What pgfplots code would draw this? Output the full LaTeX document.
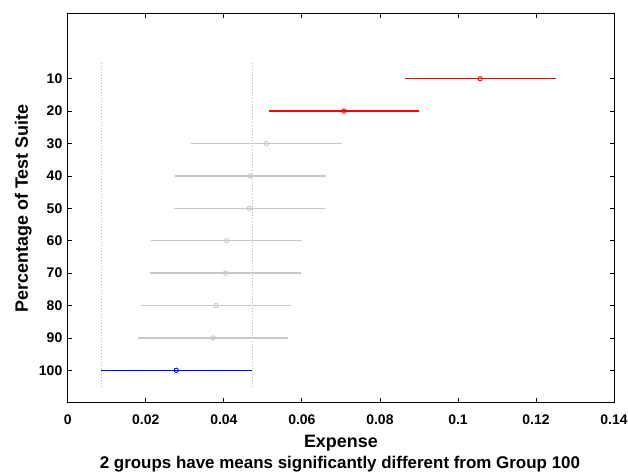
\documentclass[border=0pt]{standalone}
\usepackage{fontspec}
\setmainfont{Liberation Sans}
\usepackage{pgfplots}
\pgfplotsset{compat=1.18}
\usepackage{pgfplotstable}
\definecolor{ggray}{RGB}{200,200,200}
\definecolor{dgray}{RGB}{185,185,185}
% group, mean, halfwidth
\pgfplotstableread{
g mean err
10 0.1057 0.0193
20 0.0708 0.0193
}\redtab
\pgfplotstableread{
g mean err
30 0.0509 0.0193
40 0.0468 0.0193
50 0.0465 0.0193
60 0.0407 0.0193
70 0.0404 0.0193
80 0.0380 0.0193
90 0.0372 0.0193
}\graytab
\pgfplotstableread{
g mean err
100 0.0278 0.0193
}\bluetab
\begin{document}
\begin{tikzpicture}
\useasboundingbox (-68pt,-69pt) rectangle (562pt,404pt);
\begin{axis}[
  at={(0,0)}, anchor=south west,
  scale only axis, width=548pt, height=390pt,
  xmin=0, xmax=0.14, ymin=-10, ymax=110, y dir=reverse,
  xtick={0,0.02,0.04,0.06,0.08,0.1,0.12,0.14},
  xticklabels={\textbf{0},\textbf{0.02},\textbf{0.04},\textbf{0.06},\textbf{0.08},\textbf{0.1},\textbf{0.12},\textbf{0.14}},
  ytick={10,20,30,40,50,60,70,80,90,100},
  yticklabels={\textbf{10},\textbf{20},\textbf{30},\textbf{40},\textbf{50},\textbf{60},\textbf{70},\textbf{80},\textbf{90},\textbf{100}},
  scaled x ticks=false,
  /pgf/number format/assume math mode=true,
  tick align=inside, major tick length=4.5pt,
  tick style={black, line width=0.8pt},
  axis line style={line width=1pt},
  ticklabel style={font=\bfseries\fontsize{14}{17}\selectfont},
  xticklabel style={font=\bfseries\fontsize{14}{17}\selectfont, yshift=-9pt},
  yticklabel style={xshift=-2pt},
  xlabel={Expense},
  ylabel={Percentage of Test Suite},
  label style={font=\bfseries\fontsize{18}{21}\selectfont},
  xlabel style={at={(axis description cs:0.5,-0.103)}, anchor=center},
  ylabel style={at={(axis description cs:-0.0815,0.5)}, anchor=center},
  clip=false,
]
\addplot[dgray, line width=0.8pt, dash pattern=on 0.8pt off 2.2pt] coordinates {(0.0085,5) (0.0085,105)};
\addplot[dgray, line width=0.8pt, dash pattern=on 0.8pt off 2.2pt] coordinates {(0.0472,5) (0.0472,105)};
\addplot[red, only marks, mark=o, mark size=2.2pt, mark options={line width=0.9pt, fill=white},
  error bars/.cd, x dir=both, x explicit, error mark=none,
  error bar style={draw=red, line width=1.5pt}]
  table[x=mean, y=g, x error=err] {\redtab};
\addplot[ggray, only marks, mark=o, mark size=2.2pt, mark options={line width=0.9pt, fill=white},
  error bars/.cd, x dir=both, x explicit, error mark=none,
  error bar style={draw=ggray, line width=1.5pt}]
  table[x=mean, y=g, x error=err] {\graytab};
\addplot[blue, only marks, mark=o, mark size=2.2pt, mark options={line width=0.9pt, fill=white},
  error bars/.cd, x dir=both, x explicit, error mark=none,
  error bar style={draw=blue, line width=1.5pt}]
  table[x=mean, y=g, x error=err] {\bluetab};
\end{axis}
\node[font=\bfseries\fontsize{17}{20}\selectfont, anchor=center] at (273pt,-62pt) {2 groups have means significantly different from Group 100};
\end{tikzpicture}
\end{document}
